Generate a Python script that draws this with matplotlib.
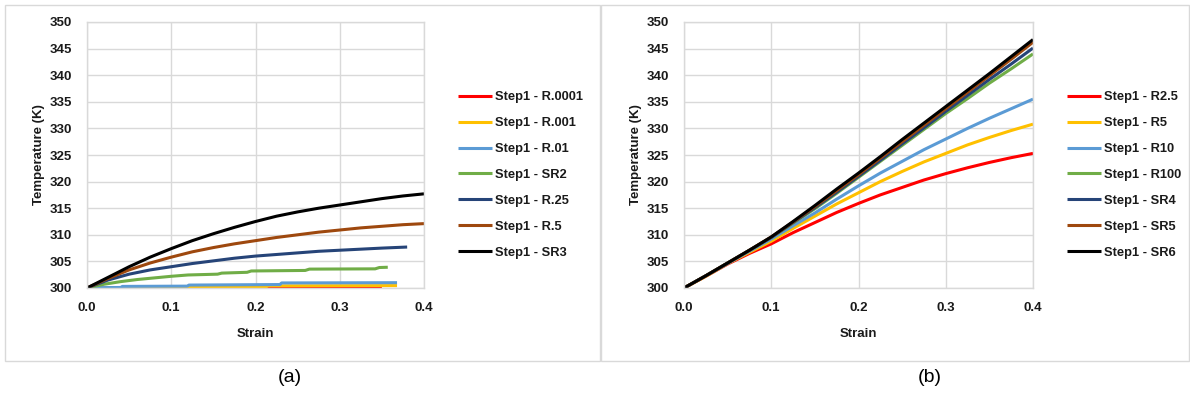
"""Temperature vs strain for the step-1 runs, panels (a) and (b)."""

import matplotlib

matplotlib.use("Agg")
import matplotlib.pyplot as plt
from matplotlib.patches import Rectangle

W, H = 1190, 399

# ---- panel (a) data -------------------------------------------------------
labels_a = ["Step1 - R.0001", "Step1 - R.001", "Step1 - R.01", "Step1 - SR2",
            "Step1 - R.25", "Step1 - R.5", "Step1 - SR3"]

strain_r0001 = [0.0, 0.213, 0.215, 0.35]
temp_r0001 = [300.0, 300.0, 300.08, 300.1]

strain_r001 = [0.04, 0.119, 0.121, 0.213, 0.215, 0.368]
temp_r001 = [300.02, 300.05, 300.2, 300.25, 300.4, 300.45]

strain_r01 = [0.0, 0.04, 0.042, 0.119, 0.121, 0.229, 0.231, 0.368]
temp_r01 = [300.05, 300.1, 300.3, 300.35, 300.55, 300.65, 300.95, 301.0]

strain_sr2 = [0.0, 0.02, 0.04, 0.06, 0.08, 0.1, 0.12, 0.155, 0.16, 0.19,
              0.195, 0.259, 0.264, 0.342, 0.347, 0.357]
temp_sr2 = [300.0, 300.7, 301.2, 301.6, 301.9, 302.2, 302.45, 302.6, 302.8,
            302.95, 303.2, 303.3, 303.55, 303.6, 303.85, 303.9]

strain_r25 = [0.0, 0.025, 0.05, 0.075, 0.1, 0.125, 0.15, 0.175, 0.2, 0.225,
              0.25, 0.275, 0.3, 0.325, 0.35, 0.38]
temp_r25 = [300.0, 301.5, 302.6, 303.4, 304.0, 304.6, 305.1, 305.6, 306.0,
            306.3, 306.6, 306.9, 307.1, 307.3, 307.5, 307.7]

strain_full = [0.0, 0.025, 0.05, 0.075, 0.1, 0.125, 0.15, 0.175, 0.2, 0.225,
               0.25, 0.275, 0.3, 0.325, 0.35, 0.375, 0.4]
temp_r5 = [300.0, 301.8, 303.4, 304.7, 305.8, 306.8, 307.6, 308.3, 308.9,
           309.5, 310.0, 310.5, 310.9, 311.3, 311.6, 311.9, 312.1]
temp_sr3 = [300.0, 302.0, 304.0, 305.8, 307.4, 308.9, 310.2, 311.4, 312.5,
            313.5, 314.3, 315.0, 315.6, 316.2, 316.8, 317.3, 317.7]

# ---- panel (b) data -------------------------------------------------------
labels_b = ["Step1 - R2.5", "Step1 - R5", "Step1 - R10", "Step1 - R100",
            "Step1 - SR4", "Step1 - SR5", "Step1 - SR6"]

temp_r2_5 = [300.0, 302.2, 304.5, 306.5, 308.3, 310.4, 312.3, 314.2, 315.9,
             317.5, 318.9, 320.3, 321.5, 322.6, 323.6, 324.5, 325.3]
temp_r5b = [300.0, 302.2, 304.6, 306.7, 308.8, 311.2, 313.5, 315.8, 317.9,
            320.0, 321.9, 323.7, 325.3, 326.9, 328.3, 329.6, 330.8]
temp_r10 = [300.0, 302.3, 304.6, 306.9, 309.2, 311.7, 314.1, 316.7, 319.2,
            321.6, 323.8, 326.0, 328.0, 330.0, 331.9, 333.7, 335.5]
temp_r100 = [300.0, 302.3, 304.7, 307.1, 309.5, 312.2, 314.9, 317.8, 320.8,
             323.8, 326.8, 329.8, 332.8, 335.6, 338.5, 341.2, 344.0]
temp_sr4 = [300.0, 302.3, 304.7, 307.1, 309.5, 312.3, 315.1, 318.0, 321.0,
            324.0, 327.1, 330.1, 333.2, 336.2, 339.2, 342.1, 345.1]
temp_sr5 = [300.0, 302.3, 304.7, 307.1, 309.6, 312.4, 315.3, 318.3, 321.3,
            324.4, 327.5, 330.6, 333.7, 336.8, 339.9, 343.0, 346.2]
temp_sr6 = [300.0, 302.3, 304.7, 307.1, 309.6, 312.5, 315.5, 318.6, 321.6,
            324.7, 327.9, 331.0, 334.1, 337.2, 340.3, 343.5, 346.7]

x_ticks = [0.0, 0.1, 0.2, 0.3, 0.4]
y_ticks = list(range(300, 351, 5))

colors = ["#FF0000", "#FFC000", "#5B9BD5", "#70AD47", "#264478", "#9E480E", "#000000"]
GRID = "#d9d9d9"
TXT = "#1a1a1a"
FONT = "Liberation Sans"


def fig_box(left, top, right, bottom):
    return [left / W, 1 - bottom / H, (right - left) / W, (bottom - top) / H]


def style_axes(ax):
    ax.set_xlim(0, 0.4)
    ax.set_ylim(300, 350)
    ax.set_xticks(x_ticks)
    ax.set_xticklabels([f"{t:.1f}" for t in x_ticks])
    ax.set_yticks(y_ticks)
    ax.grid(True, color=GRID, linewidth=1.0)
    ax.set_axisbelow(True)
    for sp in ax.spines.values():
        sp.set_color(GRID)
        sp.set_linewidth(1.0)
    ax.tick_params(length=0, labelsize=9.5, colors=TXT)
    ax.tick_params(axis="x", pad=10)
    ax.tick_params(axis="y", pad=11)
    for lab in ax.get_xticklabels() + ax.get_yticklabels():
        lab.set_fontfamily(FONT)
        lab.set_fontweight("bold")
    ax.set_xlabel("Strain", fontsize=9.5, fontweight="bold", family=FONT,
                  color=TXT, labelpad=10)
    ax.set_ylabel("Temperature (K)", fontsize=9.5, fontweight="bold",
                  family=FONT, color=TXT, labelpad=3)


def add_legend(ax, x_px, y_px):
    leg = ax.legend(loc="upper left", bbox_to_anchor=(x_px / W, 1 - y_px / H),
                    bbox_transform=fig.transFigure, frameon=False,
                    borderpad=0, borderaxespad=0, handlelength=2.6,
                    handletextpad=0.25, labelspacing=1.08,
                    prop={"family": FONT, "weight": "bold", "size": 9.3})
    for t in leg.get_texts():
        t.set_color(TXT)
    return leg


fig = plt.figure(figsize=(W / 100, H / 100), dpi=100)

# panel frames
for x0, x1 in [(5, 600), (601, 1189)]:
    fig.add_artist(Rectangle((x0 / W, 1 - 361 / H), (x1 - x0) / W, 356 / H,
                             transform=fig.transFigure, fill=False,
                             edgecolor=GRID, linewidth=1.0))

LW = 2.2

ax_a = fig.add_axes(fig_box(87, 22, 424, 288))
series_a = [(strain_r0001, temp_r0001), (strain_r001, temp_r001),
            (strain_r01, temp_r01), (strain_sr2, temp_sr2),
            (strain_r25, temp_r25), (strain_full, temp_r5),
            (strain_full, temp_sr3)]
for (xs, ys), c, lab in zip(series_a, colors, labels_a):
    ax_a.plot(xs, ys, color=c, linewidth=LW, label=lab, solid_capstyle="butt")
style_axes(ax_a)
add_legend(ax_a, 458, 91)

ax_b = fig.add_axes(fig_box(684, 22, 1033, 288))
series_b = [temp_r2_5, temp_r5b, temp_r10, temp_r100, temp_sr4, temp_sr5, temp_sr6]
for ys, c, lab in zip(series_b, colors, labels_b):
    ax_b.plot(strain_full, ys, color=c, linewidth=LW, label=lab, solid_capstyle="butt")
style_axes(ax_b)
add_legend(ax_b, 1067, 91)

fig.text(290 / W, 1 - 378 / H, "(a)", ha="center", va="center",
         fontsize=14, family="Liberation Sans", color="#000000")
fig.text(930 / W, 1 - 378 / H, "(b)", ha="center", va="center",
         fontsize=14, family="Liberation Sans", color="#000000")

fig.savefig("out.png", dpi=100)
